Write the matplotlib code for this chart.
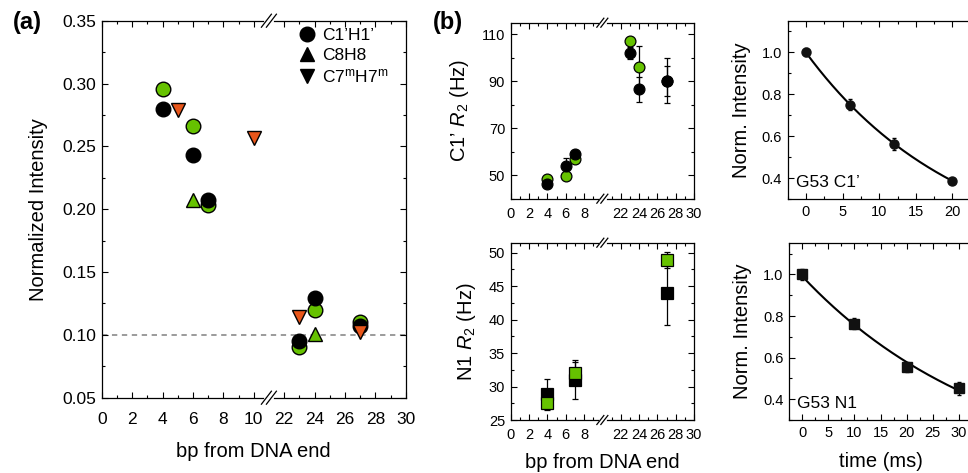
import numpy as np
import matplotlib
matplotlib.use('Agg')
import matplotlib.pyplot as plt
from matplotlib.ticker import FixedLocator, MultipleLocator
from matplotlib.lines import Line2D

plt.rcParams['font.family'] = ['Liberation Sans', 'DejaVu Sans']
plt.rcParams['mathtext.fontset'] = 'custom'
plt.rcParams['mathtext.rm'] = 'Liberation Sans'
plt.rcParams['mathtext.it'] = 'Liberation Sans:italic'
plt.rcParams['mathtext.bf'] = 'Liberation Sans:bold'

GREEN = '#66c200'
ORANGE = '#e8561a'

# ---------------- data: panel (a) ----------------
a_c1h1_green_bp = [4, 6, 7, 23, 24, 27]
a_c1h1_green_int = [0.296, 0.266, 0.203, 0.090, 0.120, 0.110]
a_c1h1_black_bp = [4, 6, 7, 23, 24, 27]
a_c1h1_black_int = [0.280, 0.243, 0.207, 0.095, 0.129, 0.107]
a_c8h8_bp = [6, 24]
a_c8h8_int = [0.207, 0.101]
a_c7h7_bp = [5, 10, 23, 27]
a_c7h7_int = [0.279, 0.257, 0.114, 0.102]
a_reference_level = 0.10

# ---------------- data: panel (b) C1' R2 ----------------
b_c1_green_bp = [4, 6, 7, 23, 24, 27]
b_c1_green_r2 = [48.3, 49.7, 56.9, 107.0, 96.0, 90.2]
b_c1_green_err = [1.0, 1.0, 1.2, 1.0, 9.0, 6.5]
b_c1_black_bp = [4, 6, 7, 23, 24, 27]
b_c1_black_r2 = [46.2, 53.9, 59.2, 102.2, 86.7, 90.2]
b_c1_black_err = [1.0, 3.6, 1.0, 2.5, 5.3, 9.6]

# ---------------- data: panel (b) N1 R2 ----------------
b_n1_green_bp = [4, 7, 27]
b_n1_green_r2 = [27.6, 32.0, 48.9]
b_n1_green_err = [1.1, 1.7, 1.15]
b_n1_black_bp = [4, 7, 27]
b_n1_black_r2 = [28.9, 31.0, 44.0]
b_n1_black_err = [2.2, 2.9, 4.8]

# ---------------- data: decay curves ----------------
c1_time = [0, 6, 12, 20]
c1_int = [1.0, 0.75, 0.562, 0.387]
c1_err = [0.02, 0.025, 0.03, 0.015]
n1_time = [0, 10, 20, 30]
n1_int = [1.0, 0.764, 0.556, 0.452]
n1_err = [0.025, 0.025, 0.025, 0.03]

bp_major_a = [0, 2, 4, 6, 8, 10, 22, 24, 26, 28, 30]
bp_major_b = [0, 2, 4, 6, 8, 22, 24, 26, 28, 30]
c1_r2_ticks = [50, 70, 90, 110]
c1_r2_minor = [40, 60, 80, 100]

CUT = 10.0


def fwd(x):
    x = np.asarray(x, dtype=float)
    return np.where(x <= CUT, x, np.where(x >= CUT + 10, x - 10, CUT))


def inv(u):
    u = np.asarray(u, dtype=float)
    return np.where(u <= CUT, u, u + 10)


fig = plt.figure(figsize=(9.68, 4.73), dpi=100)


def add_ax(l, t, r, b):
    W, H = 968.0, 473.0
    return fig.add_axes([l / W, 1 - b / H, (r - l) / W, (b - t) / H])


def style(ax, lab, xpad=4, right=True):
    ax.tick_params(which='both', direction='in', top=True, right=right,
                   labelsize=lab, width=0.8, color='black', pad=4)
    ax.tick_params(axis='x', which='both', pad=xpad)
    ax.tick_params(which='major', length=4)
    ax.tick_params(which='minor', length=2.5)
    for s in ax.spines.values():
        s.set_linewidth(0.9)


def break_marks(ax, xdata, dx_px=4.0, dy_px=5.5, gap_px=4.5):
    fig.canvas.draw()
    bb = ax.get_window_extent()
    u = (fwd(xdata) - 0) / 20.0
    ddx = dx_px / bb.width
    ddy = dy_px / bb.height
    g = gap_px / bb.width
    for yb in (0.0, 1.0):
        ax.plot([u - g / 2 - ddx * 0.2, u + g / 2 + ddx * 0.2], [yb, yb], color='white',
                lw=2.0, transform=ax.transAxes, clip_on=False, zorder=5)
        for off in (-g / 2, g / 2):
            ax.plot([u + off - ddx, u + off + ddx], [yb - ddy, yb + ddy], color='black',
                    lw=0.9, transform=ax.transAxes, clip_on=False, zorder=6)


# ================= panel (a) =================
axa = add_ax(101.7, 20.7, 405.7, 397.7)
axa.set_xscale('function', functions=(fwd, inv))
axa.set_xlim(0, 30)
axa.set_ylim(0.05, 0.35)
axa.xaxis.set_major_locator(FixedLocator(bp_major_a))
axa.set_xticklabels([str(v) for v in bp_major_a])
axa.xaxis.set_minor_locator(FixedLocator([v for v in list(range(0, 11)) + list(range(22, 31))]))
axa.yaxis.set_major_locator(MultipleLocator(0.05))
axa.yaxis.set_minor_locator(MultipleLocator(0.025))
axa.yaxis.set_major_formatter(matplotlib.ticker.FormatStrFormatter('%.2f'))
style(axa, 12.5, xpad=10)
axa.axhline(a_reference_level, color='#808080', lw=1.1, ls=(0, (3.5, 3)), zorder=1)

ms_a = 10.5
axa.plot(a_c1h1_green_bp, a_c1h1_green_int, 'o', ms=ms_a, mfc=GREEN, mec='black', mew=1.0, zorder=3)
axa.plot(a_c1h1_black_bp, a_c1h1_black_int, 'o', ms=ms_a, mfc='black', mec='black', mew=1.0, zorder=3)
axa.plot(a_c8h8_bp, a_c8h8_int, '^', ms=ms_a, mfc=GREEN, mec='black', mew=1.0, zorder=3)
axa.plot(a_c7h7_bp, a_c7h7_int, 'v', ms=ms_a, mfc=ORANGE, mec='black', mew=1.0, zorder=3)

axa.set_xlabel('bp from DNA end', fontsize=14.5, labelpad=11)
axa.set_ylabel('Normalized Intensity', fontsize=14.5, labelpad=10)

handles = [Line2D([], [], ls='', marker='o', ms=10.5, color='black'),
           Line2D([], [], ls='', marker='^', ms=10.5, color='black'),
           Line2D([], [], ls='', marker='v', ms=10.5, color='black')]
labels = ['C1\u2019H1\u2019', 'C8H8', 'C7$^{\\mathrm{m}}$H7$^{\\mathrm{m}}$']
axa.legend(handles, labels, loc='upper left', bbox_to_anchor=(0.648, 0.98), frameon=False,
           fontsize=12.5, handlelength=0.9, handletextpad=0.45, borderpad=0, borderaxespad=0,
           labelspacing=0.25)

# ================= panel (b) C1' R2 =================
axb1 = add_ax(510.7, 22.7, 694.0, 198.7)
axb1.set_xscale('function', functions=(fwd, inv))
axb1.set_xlim(0, 30)
axb1.set_ylim(40, 115)
axb1.xaxis.set_major_locator(FixedLocator(bp_major_b))
axb1.set_xticklabels([str(v) for v in bp_major_b])
axb1.xaxis.set_minor_locator(FixedLocator(list(range(0, 10)) + list(range(21, 31))))
axb1.yaxis.set_major_locator(FixedLocator(c1_r2_ticks))
axb1.yaxis.set_minor_locator(FixedLocator(c1_r2_minor))
style(axb1, 10.5, xpad=6)
ms_b = 7.8
eb = dict(ls='', ecolor='black', elinewidth=0.9, capsize=2.2, capthick=0.9)
axb1.errorbar(b_c1_green_bp, b_c1_green_r2, yerr=b_c1_green_err, fmt='o', ms=ms_b,
              mfc=GREEN, mec='black', mew=0.9, zorder=3, **eb)
axb1.errorbar(b_c1_black_bp, b_c1_black_r2, yerr=b_c1_black_err, fmt='o', ms=ms_b,
              mfc='black', mec='black', mew=0.9, zorder=3, **eb)
axb1.set_ylabel('C1\u2019 $\\mathit{R}_{\\mathrm{2}}$ (Hz)', fontsize=14.5, labelpad=8)

# ================= panel (b) N1 R2 =================
axb2 = add_ax(510.7, 242.7, 694.0, 420.0)
axb2.set_xscale('function', functions=(fwd, inv))
axb2.set_xlim(0, 30)
axb2.set_ylim(25, 51.5)
axb2.xaxis.set_major_locator(FixedLocator(bp_major_b))
axb2.set_xticklabels([str(v) for v in bp_major_b])
axb2.xaxis.set_minor_locator(FixedLocator(list(range(0, 10)) + list(range(21, 31))))
axb2.yaxis.set_major_locator(MultipleLocator(5))
axb2.yaxis.set_minor_locator(MultipleLocator(2.5))
style(axb2, 10.5, xpad=6)
ms_s = 8.0
axb2.errorbar(b_n1_black_bp, b_n1_black_r2, yerr=b_n1_black_err, fmt='s', ms=ms_s,
              mfc='black', mec='black', mew=0.9, zorder=3, **eb)
axb2.errorbar(b_n1_green_bp, b_n1_green_r2, yerr=b_n1_green_err, fmt='s', ms=ms_s,
              mfc=GREEN, mec='black', mew=0.9, zorder=3, **eb)
axb2.set_ylabel('N1 $\\mathit{R}_{\\mathrm{2}}$ (Hz)', fontsize=14.5, labelpad=8)
axb2.set_xlabel('bp from DNA end', fontsize=14.5, labelpad=8)

# ================= decay curves =================
def decay_panel(l, t, r, b, tt, ii, ee, marker, xmax, xfit_max, label, xlabel):
    ax = add_ax(l, t, r, b)
    ax.set_xlim(-2.5, xmax)
    ax.set_ylim(0.3, 1.15)
    ax.xaxis.set_major_locator(MultipleLocator(5))
    ax.xaxis.set_minor_locator(MultipleLocator(2.5))
    ax.yaxis.set_major_locator(MultipleLocator(0.2))
    ax.yaxis.set_minor_locator(MultipleLocator(0.1))
    ax.yaxis.set_major_formatter(matplotlib.ticker.FormatStrFormatter('%.1f'))
    style(ax, 10.5, xpad=4, right=False)
    k, lna = np.polyfit(np.asarray(tt, float), np.log(np.asarray(ii, float)), 1)
    tf = np.linspace(0, xfit_max, 200)
    ax.plot(tf, np.exp(lna + k * tf), color='black', lw=1.5, zorder=2)
    ax.errorbar(tt, ii, yerr=ee, fmt=marker, ms=6.5, mfc='#111111', mec='#111111',
                ls='', ecolor='black', elinewidth=0.9, capsize=1.5, zorder=3)
    ax.set_ylabel('Norm. Intensity', fontsize=14.5, labelpad=8)
    ax.text(0.045, 0.05, label, transform=ax.transAxes, fontsize=12.5, ha='left', va='bottom')
    if xlabel:
        ax.set_xlabel(xlabel, fontsize=14.5, labelpad=9)
    return ax


decay_panel(787.7, 20.7, 970.7, 199.0, c1_time, c1_int, c1_err, 'o', 22.5, 20,
            'G53 C1\u2019', None)
decay_panel(789.0, 243.3, 972.0, 420.0, n1_time, n1_int, n1_err, 's', 32.5, 30,
            'G53 N1', 'time (ms)')

break_marks(axa, 21, dx_px=5.0, dy_px=6.5, gap_px=5.0)
break_marks(axb1, 10, dx_px=3.5, dy_px=4.5, gap_px=4.0)
break_marks(axb2, 10, dx_px=3.5, dy_px=4.5, gap_px=4.0)

fig.text(12.7 / 968, 1 - 22 / 473, '(a)', fontsize=17, fontweight='bold', ha='left', va='center')
fig.text(432.7 / 968, 1 - 22 / 473, '(b)', fontsize=17, fontweight='bold', ha='left', va='center')

fig.savefig('out.png', dpi=100)
